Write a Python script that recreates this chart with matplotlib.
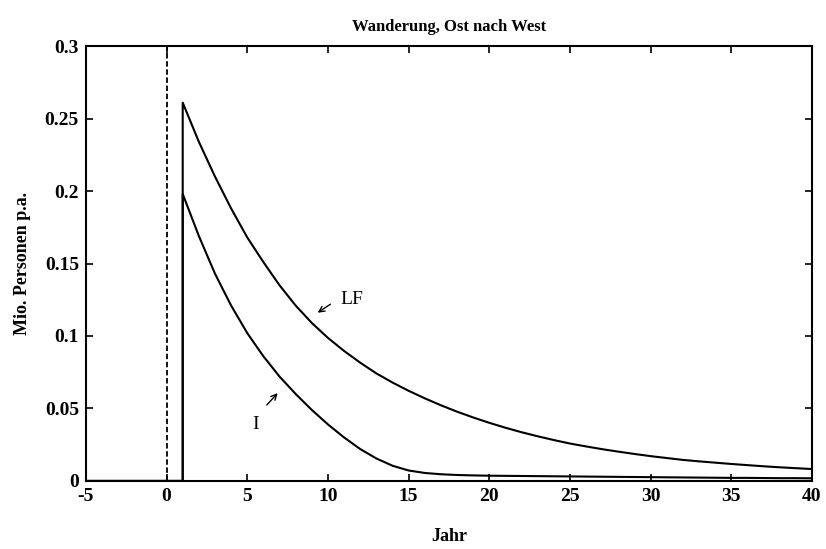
import numpy as np
import matplotlib.pyplot as plt

# Daten
jahre = np.arange(1, 41)
lf = [0.261, 0.234, 0.210, 0.188, 0.168, 0.151, 0.135, 0.121, 0.109, 0.0987,
      0.0897, 0.0816, 0.0742, 0.0679, 0.0622, 0.0570, 0.0522, 0.0478, 0.0438, 0.0401,
      0.0367, 0.0336, 0.0308, 0.0282, 0.0258, 0.0238, 0.0219, 0.0202, 0.0186, 0.0171,
      0.0158, 0.0145, 0.0135, 0.0126, 0.0117, 0.0109, 0.0101, 0.0094, 0.0088, 0.0082]
inv = [0.198, 0.169, 0.143, 0.121, 0.102, 0.086, 0.072, 0.060, 0.049, 0.039,
       0.030, 0.022, 0.0155, 0.0105, 0.0072, 0.0055, 0.0046, 0.0041, 0.0038, 0.0036,
       0.0035, 0.0034, 0.0033, 0.0032, 0.0031, 0.0030, 0.0029, 0.0028, 0.0027, 0.0026,
       0.0025, 0.0024, 0.0023, 0.0022, 0.0021, 0.0021, 0.0020, 0.0019, 0.0019, 0.0018]
xticks = [-5, 0, 5, 10, 15, 20, 25, 30, 35, 40]
yticks = [0, 0.05, 0.1, 0.15, 0.2, 0.25, 0.3]
ytick_labels = ['0', '0.05', '0.1', '0.15', '0.2', '0.25', '0.3']

plt.rcParams['font.family'] = ['Liberation Serif', 'DejaVu Serif']
plt.rcParams['font.weight'] = 'bold'
plt.rcParams['axes.unicode_minus'] = False

fig = plt.figure(figsize=(8.26, 5.49), dpi=100)
ax = fig.add_axes([0.104, 0.124, 0.879, 0.792])

# vor Jahr 1 ist alles null, Sprung bei Jahr 1
x = np.concatenate(([-5, 1], jahre))
plt.plot(x, np.concatenate(([0, 0], lf)), color='k', lw=1.5)
plt.plot(x, np.concatenate(([0, 0], inv)), color='k', lw=1.5)
plt.plot([0, 0], [0, 0.3], color='k', lw=1.3, ls=(0, (3, 1.5)))

plt.annotate('', xy=(9.22, 0.115), xytext=(10.3, 0.123),
             arrowprops=dict(arrowstyle='->', color='k', lw=1.0))
plt.text(10.75, 0.125, 'LF', fontsize=14, va='center', ha='left', fontweight='normal')
plt.annotate('', xy=(7.0, 0.062), xytext=(6.1, 0.051),
             arrowprops=dict(arrowstyle='->', color='k', lw=1.0))
plt.text(5.5, 0.0386, 'I', fontsize=14, va='center', ha='center', fontweight='normal')

plt.axis([-5, 40, 0, 0.3])
plt.xticks(xticks)
plt.yticks(yticks, ytick_labels)
ax.tick_params(direction='in', top=True, right=True, length=5, width=1.2,
               labelsize=14)
ax.tick_params(axis='x', pad=5)
ax.tick_params(axis='y', pad=5)
for s in ax.spines.values():
    s.set_linewidth(1.5)

plt.title('Wanderung, Ost nach West', fontsize=12, fontweight='bold', pad=11)
plt.xlabel('Jahr', fontsize=13, fontweight='bold', labelpad=17)
plt.ylabel('Mio. Personen p.a.', fontsize=13, fontweight='bold', labelpad=10)

plt.savefig('out.png', dpi=100)
